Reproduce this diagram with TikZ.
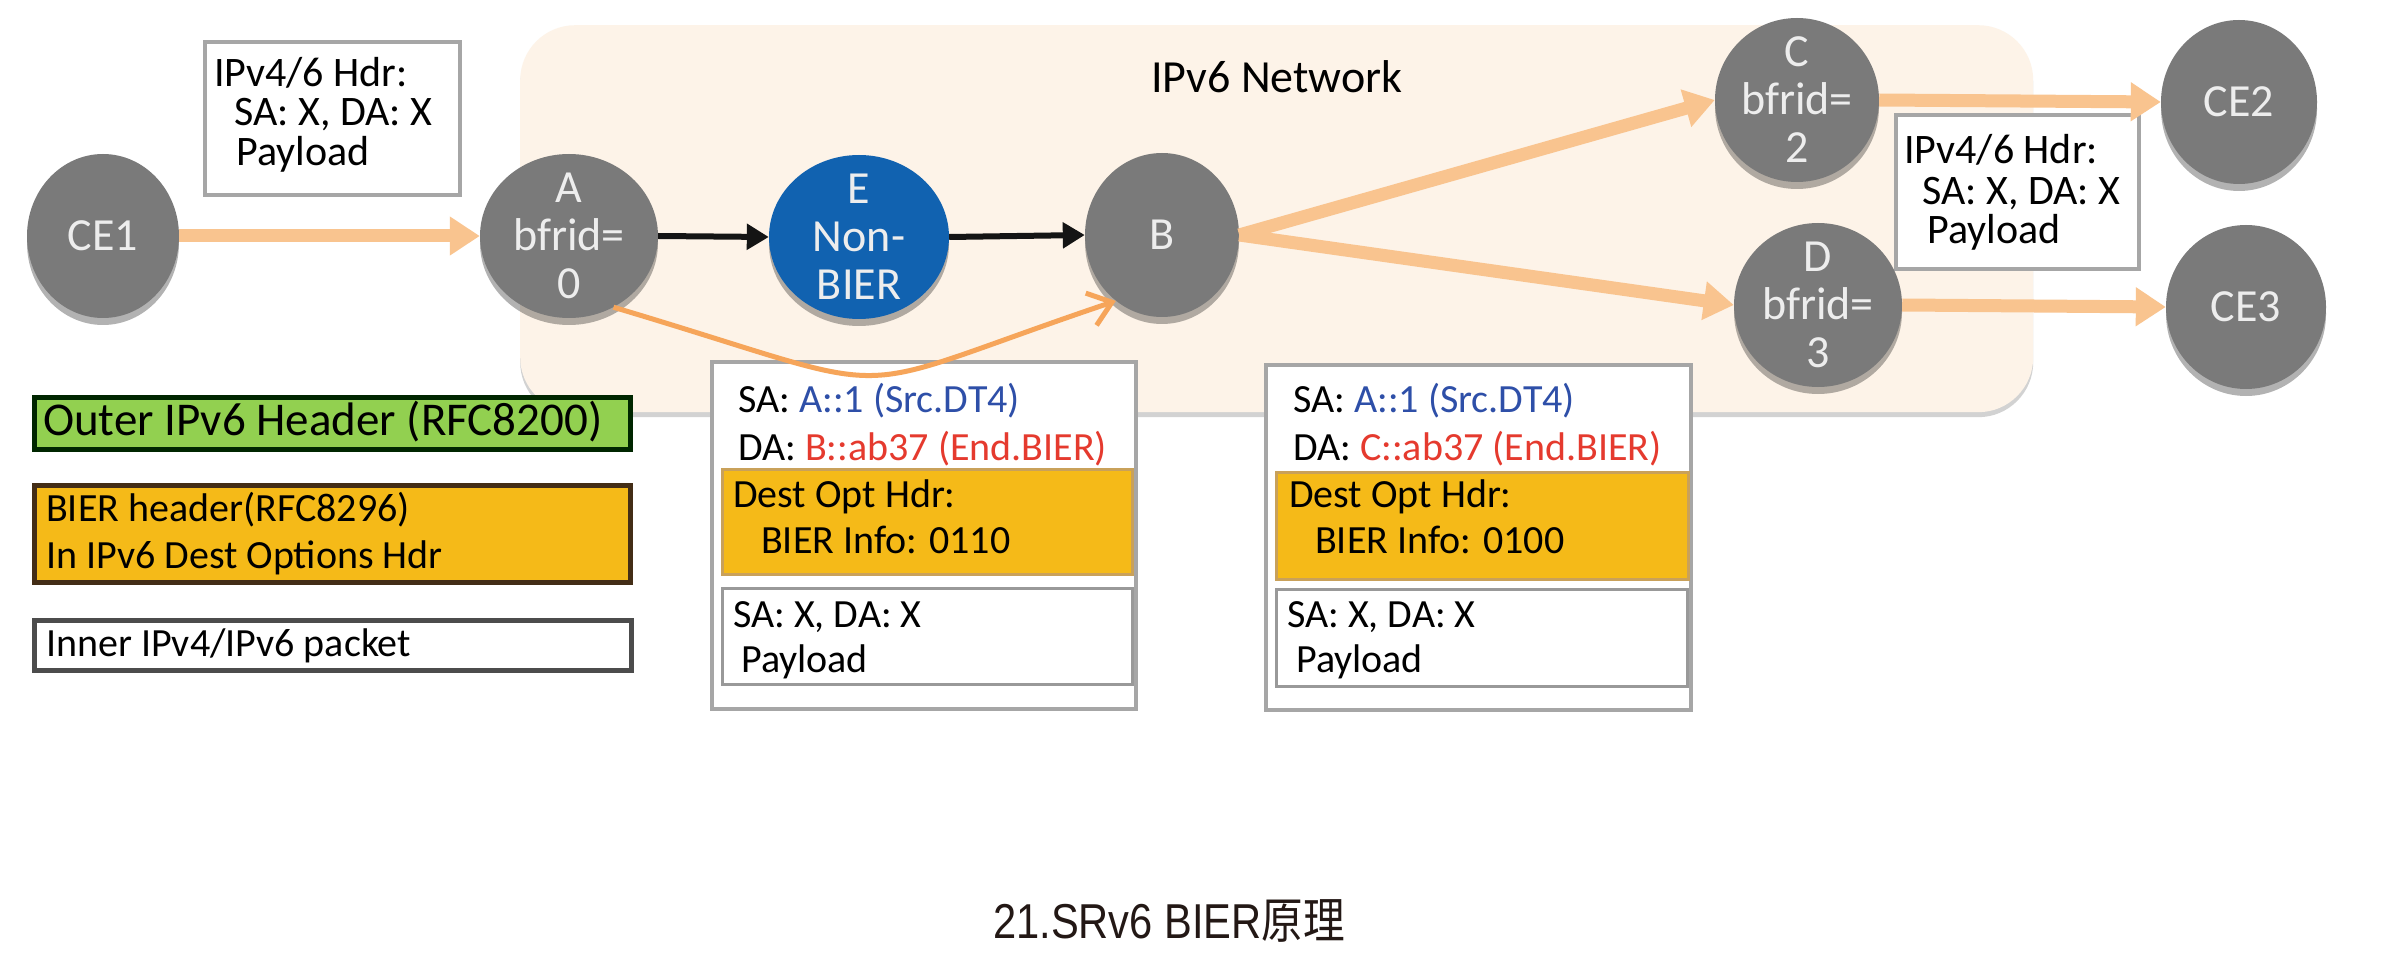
\documentclass[tikz,border=0pt]{standalone}
\usepackage{fontspec}
\usepackage{graphicx}
\setmainfont{Carlito}
\newfontfamily\capfont{Liberation Sans}
\newfontfamily\cjkfont{Noto Sans CJK SC}
\usetikzlibrary{arrows.meta,shadows,shapes.geometric}
\definecolor{netbg}{HTML}{FDF3E8}
\definecolor{nodegray}{HTML}{7A7A7A}
\definecolor{eblue}{HTML}{1162B0}
\definecolor{peach}{HTML}{F9C48F}
\definecolor{curveor}{HTML}{F6A55A}
\definecolor{gold}{HTML}{F5BA18}
\definecolor{lgreen}{HTML}{92D050}
\definecolor{sablue}{HTML}{2E4FA8}
\definecolor{dared}{HTML}{E53A2E}
\definecolor{boxgray}{HTML}{A6A6A6}
\definecolor{goldedge}{HTML}{C9A15A}
\definecolor{capcol}{HTML}{231815}
\tikzset{
  nodeshadow/.style={drop shadow={shadow xshift=0pt,shadow yshift=-7pt,opacity=0.3,fill=black}},
  router/.style={ellipse,fill=nodegray,minimum height=164pt,inner sep=0pt,nodeshadow},
  rtext/.style={text=white!93!black,font=\fontsize{46}{48}\selectfont,align=center,inner sep=0pt},
  boxnode/.style={anchor=north west,inner sep=0pt},
  txt/.style={anchor=base west,inner sep=0pt,font=\fontsize{40}{44}\selectfont},
  hdrtxt/.style={anchor=base west,inner sep=0pt,font=\fontsize{42}{44}\selectfont},
  thickor/.style={draw=peach,line width=13pt,-{Triangle[length=30pt,width=37pt]}},
  blk/.style={draw=black!92,line width=6pt,-{Triangle[length=22pt,width=25pt]}},
  curvearrow/.style={draw=curveor,line width=5pt,-{Straight Barb[length=22pt,width=34pt]}},
}
\begin{document}
\begin{tikzpicture}[x=1pt,y=-1pt]
\useasboundingbox[fill=white] (0,0) rectangle (2389,957);

% IPv6 network background
\node[boxnode,fill=netbg,rounded corners=55pt,minimum width=1513pt,minimum height=387pt,
  drop shadow={shadow xshift=0pt,shadow yshift=-5pt,opacity=0.35,fill=gray}] (net) at (520,25) {};
\node[anchor=base west,inner sep=0pt,font=\fontsize{46}{48}\selectfont] (netlbl) at (1151,93) {IPv6 Network};

% IPv4/6 header boxes
\node[boxnode,draw=boxgray,line width=4pt,fill=white,minimum width=255pt,minimum height=153pt] (h1) at (203,40) {};
\node[hdrtxt] (h1a) at (214,87) {IPv4/6 Hdr:};
\node[hdrtxt] (h1b) at (234,126) {SA: X, DA: X};
\node[hdrtxt] (h1c) at (236,166) {Payload};

\node[boxnode,draw=boxgray,line width=4pt,fill=white,minimum width=243pt,minimum height=154pt] (h2) at (1894,113) {};
\node[hdrtxt] (h2a) at (1904,164) {IPv4/6 Hdr:};
\node[hdrtxt] (h2b) at (1922,205) {SA: X, DA: X};
\node[hdrtxt] (h2c) at (1927,244) {Payload};

% legend
\node[boxnode,draw=black!85!green,line width=5pt,fill=lgreen,minimum width=596pt,minimum height=52pt] (lg1) at (32,395) {};
\node[anchor=base west,inner sep=0pt,font=\fontsize{47}{48}\selectfont] (lg1t) at (43,435) {Outer IPv6 Header (RFC8200)};
\node[boxnode,draw=black!65!brown,line width=5pt,fill=gold,minimum width=596pt,minimum height=97pt] (lg2) at (32,483) {};
\node[txt] (lg2a) at (46,521) {BIER header(RFC8296)};
\node[txt] (lg2b) at (46,568) {In IPv6 Dest Options Hdr};
\node[boxnode,draw=black!70,line width=5pt,fill=white,minimum width=597pt,minimum height=50pt] (lg3) at (32,618) {};
\node[txt] (lg3t) at (46,656) {Inner IPv4/IPv6 packet};

% packet box 1
\node[boxnode,draw=boxgray,line width=4pt,fill=white,minimum width=424pt,minimum height=347pt] (p1) at (710,360) {};
\node[boxnode,draw=goldedge,line width=3pt,fill=gold,minimum width=410pt,minimum height=105pt] (g1) at (721,468) {};
\node[boxnode,draw=black!40,line width=3pt,fill=white,minimum width=410pt,minimum height=96pt] (w1) at (721,587) {};
\node[txt] (p1a) at (738,412) {SA: \textcolor{sablue}{A::1 (Src.DT4)}};
\node[txt] (p1b) at (738,460) {DA: \textcolor{dared}{B::ab37 (End.BIER)}};
\node[txt] (p1c) at (733,507) {Dest Opt Hdr:};
\node[txt] (p1d) at (761,553) {BIER Info: 0110};
\node[txt] (p1e) at (733,627) {SA: X, DA: X};
\node[txt] (p1f) at (741,672) {Payload};

% packet box 2
\node[boxnode,draw=boxgray,line width=4pt,fill=white,minimum width=425pt,minimum height=345pt] (p2) at (1264,363) {};
\node[boxnode,draw=goldedge,line width=3pt,fill=gold,minimum width=412pt,minimum height=107pt] (g2) at (1275,471) {};
\node[boxnode,draw=black!40,line width=3pt,fill=white,minimum width=411pt,minimum height=97pt] (w2) at (1275,588) {};
\node[txt] (p2a) at (1293,412) {SA: \textcolor{sablue}{A::1 (Src.DT4)}};
\node[txt] (p2b) at (1293,460) {DA: \textcolor{dared}{C::ab37 (End.BIER)}};
\node[txt] (p2c) at (1289,507) {Dest Opt Hdr:};
\node[txt] (p2d) at (1315,553) {BIER Info: 0100};
\node[txt] (p2e) at (1287,627) {SA: X, DA: X};
\node[txt] (p2f) at (1296,672) {Payload};

% nodes
\node[router,minimum width=152pt,label={[rtext]center:CE1}] (CE1) at (103,236) {};
\node[router,minimum width=178pt,label={[rtext]center:{A\\bfrid=\\0}}] (A) at (569,236) {};
\node[router,fill=eblue,minimum width=180pt,label={[rtext]center:{E\\Non-\\BIER}}] (E) at (859,237) {};
\node[router,minimum width=154pt,label={[rtext]center:B}] (B) at (1162,235) {};
\node[router,minimum width=164pt,label={[rtext]center:{C\\bfrid=\\2}}] (C) at (1797,100) {};
\node[router,minimum width=168pt,label={[rtext]center:{D\\bfrid=\\3}}] (D) at (1818,305) {};
\node[router,minimum width=156pt,label={[rtext]center:CE2}] (CE2) at (2239,102) {};
\node[router,minimum width=160pt,label={[rtext]center:CE3}] (CE3) at (2246,307) {};

% connectors
\draw[thickor] (CE1.east) -- (A.west);
\draw[blk] (A.east) -- (E.west);
\draw[blk] (E.east) -- (B.west);
\draw[thickor] (B.east) -- (C.west);
\draw[thickor] (B.east) -- (D.west);
\draw[thickor] (C.east) -- (CE2.west);
\draw[thickor] (D.east) -- (CE3.west);
\draw[curvearrow] (A.-58) .. controls (922,399) and (825,399) .. (B.235);

% caption
\node[anchor=base west,inner sep=0pt,text=capcol] (cap) at (993,938)
  {\scalebox{0.85}[1]{\fontsize{49}{52}\selectfont\capfont 21.SRv6 BIER\cjkfont 原理}};
\end{tikzpicture}
\end{document}
